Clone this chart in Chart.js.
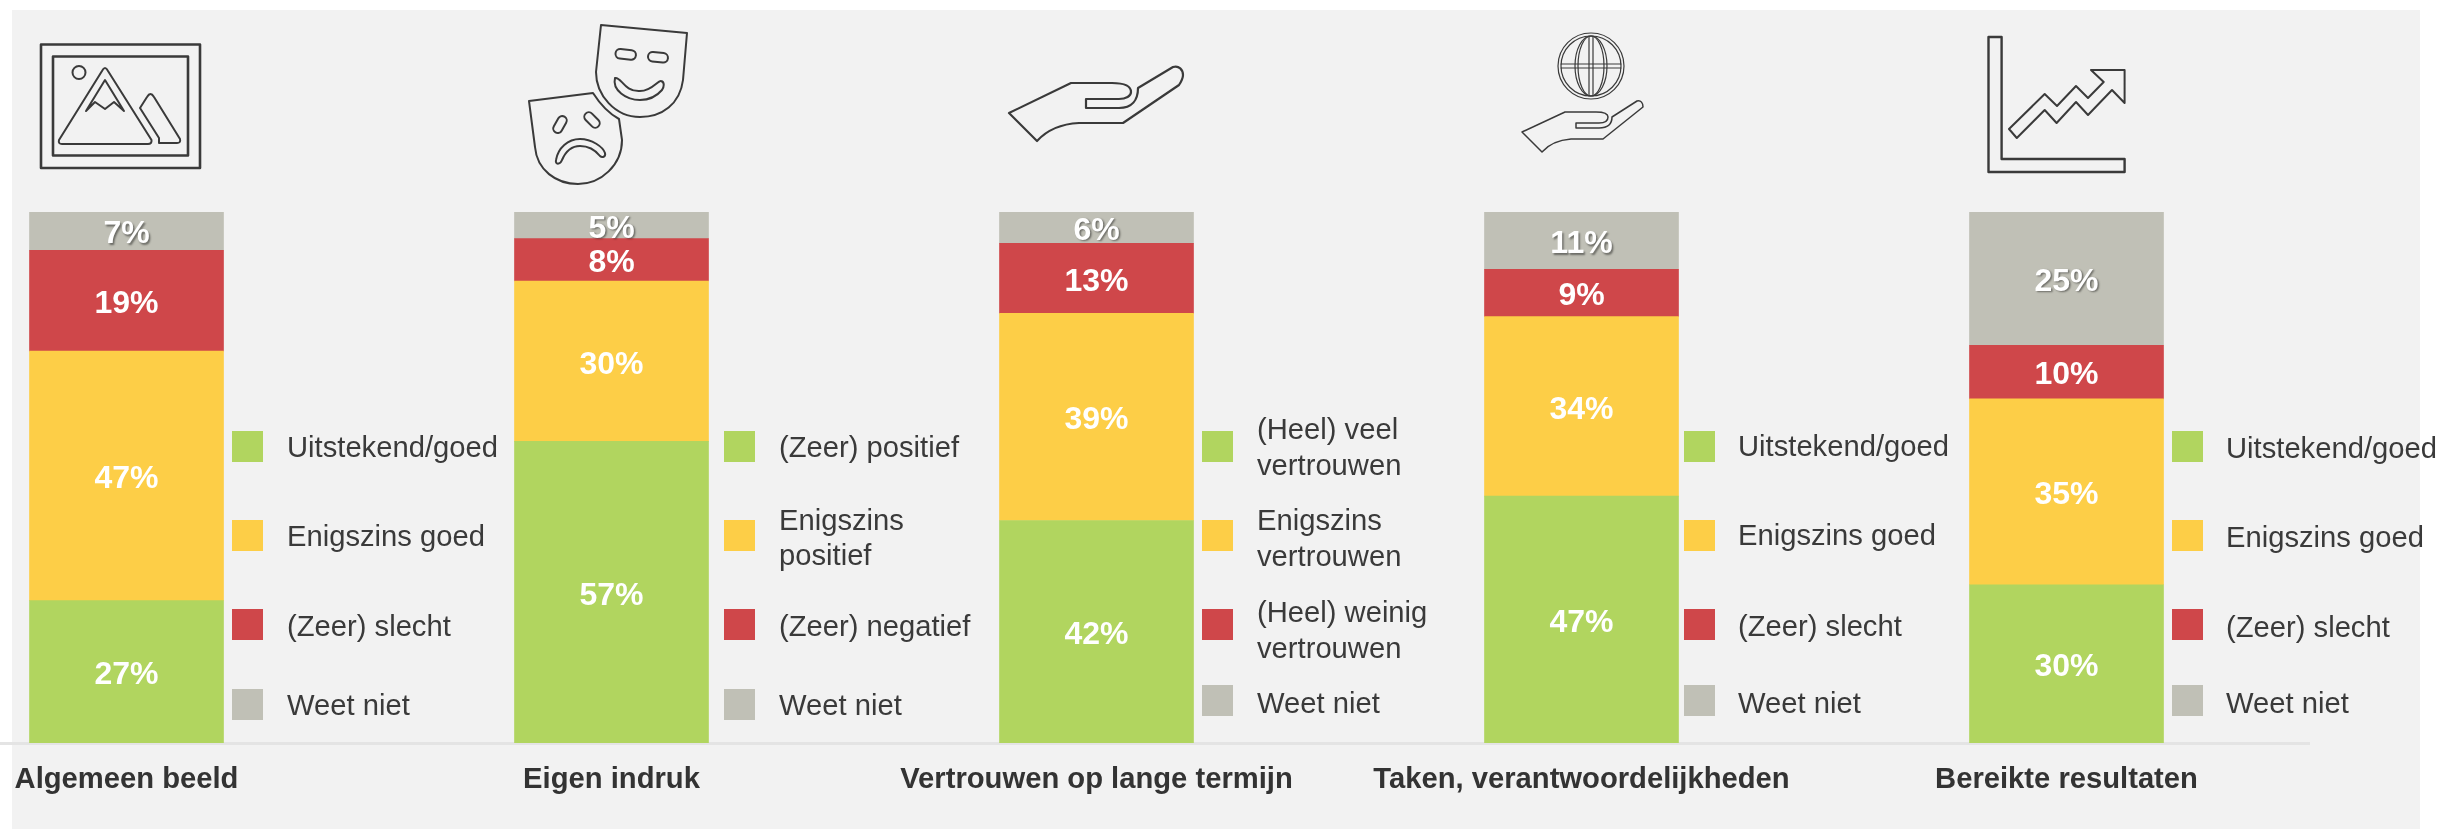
<!DOCTYPE html>
<html lang="nl">
<head>
<meta charset="utf-8">
<title>Beeld en vertrouwen</title>
<script src="https://cdn.jsdelivr.net/npm/chart.js@4"></script>
<style>
html,body{margin:0;padding:0;background:#fff;width:2443px;height:830px;overflow:hidden}
#bg{position:absolute;left:12px;top:10px;width:2408px;height:819px;background:#f2f2f2}
#wrap{position:absolute;left:-116px;top:0;width:2559px;height:830px}
#icons{position:absolute;left:0;top:0;width:2443px;height:830px;pointer-events:none}
#icons *{fill:none;stroke:#3a3a3a;stroke-width:2;stroke-linejoin:round;stroke-linecap:round}
.sw{position:absolute;width:31px;height:31px}
.lt{position:absolute;font:29.2px "Liberation Sans",Arial,sans-serif;line-height:36px;color:#3a3a3a;white-space:nowrap;transform:translateY(-50%)}
</style>
</head>
<body>
<div id="bg"></div>
<div id="wrap"><canvas id="c"></canvas></div>
<svg id="icons" viewBox="0 0 2443 830" aria-hidden="true">
  <!-- picture -->
  <rect x="41" y="44.5" width="159" height="123.5" style="stroke-width:2.6"/>
  <rect x="53" y="56.5" width="135" height="99" style="stroke-width:2.6"/>
  <ellipse cx="79" cy="72.5" rx="6.5" ry="6.5"/>
  <path d="M102 71 Q105 65 108 71 L151.5 140 Q152 144 148 144 L62 144 Q58 144 59 140 Z"/>
  <path d="M105 80 L124 111 L114 102 L105 109 L95 102 L86 111 Z"/>
  <path d="M147 97 Q150.5 91 154 97 L180 139 Q181 143 177 143 L159 143 L159 138 L140 108 Z"/>
  <!-- masks -->
  <path d="M601 25 L687 33 L683 80 C680 104 662 117 640 117 C615 117 596 95 596 72 Z"/>
  <rect x="615.5" y="49.5" width="20.5" height="9.5" rx="4.7" transform="rotate(6 625 54)"/>
  <rect x="648" y="52.5" width="20" height="9.5" rx="4.7" transform="rotate(6 658 57)"/>
  <path d="M615 78 C621 76 624 92 640 91 C652 91 658 80 661 81 C665 82 664 87 662 90 C656 97 648 100 640 100 C626 100 612 90 615 78 Z"/>
  <path d="M529 101 L593 93 C600 104 608 113 619 119 L622 140 C622 165 601 184 578 184 C556 184 537 170 535 147 Z"/>
  <rect x="551" y="120" width="18" height="9" rx="4.5" transform="rotate(-60 560 124.5)"/>
  <rect x="583" y="115.5" width="18" height="9" rx="4.5" transform="rotate(45 592 120)"/>
  <path d="M556 160 C558 148 568 139 580 139 C592 139 603 147 605 153 C606 157 602 158 600 156 C596 151 589 146 580 146 C571 146 565 153 562 160 C560 165 555 165 556 160 Z"/>
  <!-- hand -->
  <path d="M1009 113 L1071 83 L1112 83 C1126 83 1131 87 1131 92 C1131 96 1126 99 1119 99 L1086 99 L1086 108 L1119 108 C1132 108 1138 100 1138 88 L1173 67 C1179 65 1183 70 1183 75 C1183 78 1181 82 1179 85 L1123 123 L1079 123 C1060 124 1047 130 1037 141 Z" style="stroke-width:2.2"/>
  <!-- globe and hand -->
  <g>
    <circle cx="1591" cy="66" r="33" style="stroke-width:1.2"/>
    <circle cx="1591" cy="66" r="30" style="stroke-width:1.2"/>
    <ellipse cx="1591" cy="66" rx="16" ry="30" style="stroke-width:1.2"/>
    <ellipse cx="1591" cy="66" rx="13" ry="30" style="stroke-width:1.2"/>
    <path d="M1589 36 V96 M1593 36 V96 M1561 64 H1621 M1561 68 H1621" style="stroke-width:1.2"/>
  </g>
  <path d="M1522 132 L1565 112 L1596 112 C1604 112 1608 114 1608 117 C1608 121 1604 123 1599 123 L1576 123 L1576 128 L1599 128 C1608 128 1612 124 1612 117 L1637 101 C1641 100 1643 103 1643 107 L1603 139 L1571 139 C1558 140 1549 144 1542 152 Z" style="stroke-width:1.5"/>
  <!-- chart -->
  <path d="M1988.5 37 L2001.6 37 L2001.6 159 L2124.6 159 L2124.6 172 L1988.5 172 Z" style="stroke-width:2.4"/>
  <path d="M2009 129 L2044.7 94 L2057 106 L2076 86 L2088 98 L2103.7 82 L2091 70 L2124.6 70 L2124.6 103 L2112 90 L2088 115 L2076 102 L2056.6 123 L2044.7 110 L2016.8 138 Z" style="stroke-width:2"/>
</svg>
<script>
const categories = ["Algemeen beeld","Eigen indruk","Vertrouwen op lange termijn","Taken, verantwoordelijkheden","Bereikte resultaten"];
const positiefValues = [26.8,56.8,41.9,46.5,29.8];
const enigszinsValues = [47.0,30.2,39.0,33.8,35.0];
const negatiefValues = [19.0,8.0,13.2,8.9,10.1];
const weetNietValues = [7.2,5.0,5.9,10.8,25.1];
const seriesColors = ["#b1d55f","#fdce47","#cf474a","#c0c0b6"];

const legendTexts = [
  ["Uitstekend/goed","Enigszins goed","(Zeer) slecht","Weet niet"],
  ["(Zeer) positief","Enigszins\npositief","(Zeer) negatief","Weet niet"],
  ["(Heel) veel\nvertrouwen","Enigszins\nvertrouwen","(Heel) weinig\nvertrouwen","Weet niet"],
  ["Uitstekend/goed","Enigszins goed","(Zeer) slecht","Weet niet"],
  ["Uitstekend/goed","Enigszins goed","(Zeer) slecht","Weet niet"]
];
const swatchX = [232,724,1202,1684,2172];
const swatchY = [[431,520,609,689],[431,520,609,689],[431,520,609,685],[431,520,609,685],[431,520,609,685]];
const textX = [287,779,1257,1738,2226];
const textY = [
  [[447],[536],[626],[705]],
  [[447],[520,555],[626],[705]],
  [[429,465],[520,556],[612,648],[703]],
  [[446],[535],[626],[703]],
  [[448],[537],[627],[703]]
];

legendTexts.forEach((group,g)=>{
  group.forEach((label,i)=>{
    const s=document.createElement('div');
    s.className='sw';
    s.style.left=swatchX[g]+'px';
    s.style.top=swatchY[g][i]+'px';
    s.style.background=seriesColors[i];
    document.body.appendChild(s);
    label.split('\n').forEach((line,k)=>{
      const t=document.createElement('div');
      t.className='lt';
      t.textContent=line;
      t.style.left=textX[g]+'px';
      t.style.top=textY[g][i][k]+'px';
      document.body.appendChild(t);
    });
  });
});

const valueLabels = {
  id:'valueLabels',
  afterDatasetsDraw(chart){
    const ctx=chart.ctx;
    chart.data.datasets.forEach((ds,d)=>{
      chart.getDatasetMeta(d).data.forEach((bar,i)=>{
        ctx.save();
        ctx.font='bold 32px "Liberation Sans", Arial, sans-serif';
        ctx.fillStyle='#ffffff';
        ctx.textAlign='center';
        ctx.textBaseline='middle';
        if(d===3){
          ctx.shadowColor='rgba(0,0,0,0.45)';
          ctx.shadowOffsetX=1.5;
          ctx.shadowOffsetY=1.5;
          ctx.shadowBlur=2;
        }
        ctx.fillText(Math.round(ds.data[i])+'%',bar.x,(bar.y+bar.base)/2+3.5);
        ctx.restore();
      });
    });
  }
};

new Chart(document.getElementById('c'),{
  type:'bar',
  plugins:[valueLabels],
  data:{
    labels:categories,
    datasets:[
      {label:"Positief",data:positiefValues,backgroundColor:seriesColors[0]},
      {label:"Enigszins",data:enigszinsValues,backgroundColor:seriesColors[1]},
      {label:"Negatief",data:negatiefValues,backgroundColor:seriesColors[2]},
      {label:"Weet niet",data:weetNietValues,backgroundColor:seriesColors[3]}
    ]
  },
  options:{
    responsive:true,
    maintainAspectRatio:false,
    animation:false,
    events:[],
    layout:{padding:{top:212,right:134,left:0,bottom:0}},
    datasets:{bar:{barThickness:194,borderWidth:0}},
    plugins:{legend:{display:false},tooltip:{enabled:false}},
    scales:{
      x:{
        stacked:true,
        afterFit(s){s.height=87;},
        grid:{display:false,drawTicks:false},
        border:{display:true,color:'#e4e4e4',width:3},
        ticks:{color:'#333333',padding:19.5,maxRotation:0,autoSkip:false,
          font:{family:'"Liberation Sans", Arial, sans-serif',size:29.2,weight:'bold'}}
      },
      y:{stacked:true,display:false,min:0,max:100}
    }
  }
});
</script>
</body>
</html>
